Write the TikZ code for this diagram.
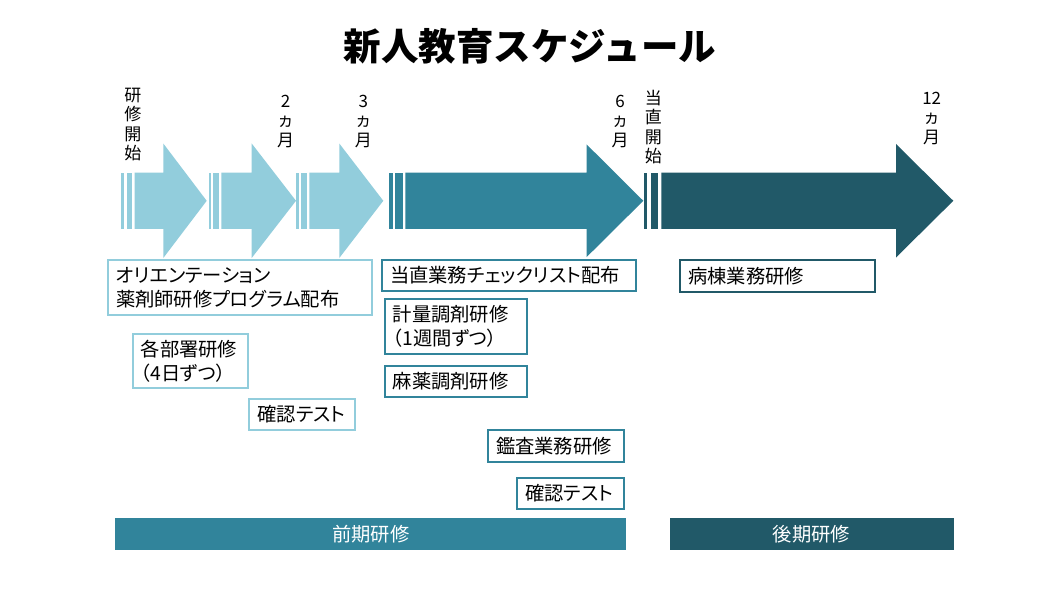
\documentclass[tikz,border=0pt]{standalone}
\usepackage{fontspec}
\setmainfont{Noto Sans CJK JP}[RawFeature=+palt]
\newfontfamily\plainjp{Noto Sans CJK JP}
\definecolor{lightc}{HTML}{92CDDC}
\definecolor{midc}{HTML}{31849B}
\definecolor{darkc}{HTML}{215968}
\begin{document}
\begin{tikzpicture}[x=1pt,y=-1pt,
  tbox/.style={anchor=north west, fill=white, line width=2pt, inner xsep=8pt, inner ysep=0pt, align=left, font=\fontsize{19.3}{24}\selectfont},
  lbox/.style={tbox, draw=lightc},
  mbox/.style={tbox, draw=midc},
  dbox/.style={tbox, draw=darkc},
  barbox/.style={anchor=north west, inner sep=0pt, text=white, font=\fontsize{19.3}{24}\selectfont},
  vlab/.style={anchor=north, inner sep=0pt, align=center, font=\plainjp\fontsize{17}{19.3}\selectfont}]
\useasboundingbox (0,0) rectangle (1060,596);
\fill[white] (0,0) rectangle (1060,596);
% title
\node[font=\plainjp\bfseries\fontsize{37.5}{44}\selectfont] (title) at (530,46) {新人教育スケジュール};
% light arrows
\foreach \sa/\sb/\sc/\sd/\bx/\hb/\tp in {120.7/124/126.7/132/134.7/163.3/206.7, 208.7/211.3/213.3/218.7/221.3/251.7/296, 296/298.7/300.7/306.7/309.3/339.3/383.3}{
  \fill[lightc] (\sa,172.7) rectangle (\sb,229);
  \fill[lightc] (\sc,172.7) rectangle (\sd,229);
  \fill[lightc] (\bx,172.7) -- (\hb,172.7) -- (\hb,143.5) -- (\tp,200.8) -- (\hb,258) -- (\hb,229) -- (\bx,229) -- cycle;
}
% medium arrow
\fill[midc] (388.7,172.7) rectangle (392.7,229);
\fill[midc] (395.3,172.7) rectangle (402.7,229);
\fill[midc] (405.3,172.7) -- (586.7,172.7) -- (586.7,144.5) -- (643.3,200.8) -- (586.7,257) -- (586.7,229) -- (405.3,229) -- cycle;
% dark arrow
\fill[darkc] (644,172.7) rectangle (647.3,229);
\fill[darkc] (650.7,172.7) rectangle (658,229);
\fill[darkc] (661.3,172.7) -- (896,172.7) -- (896,144) -- (953.3,200.8) -- (896,257.5) -- (896,229) -- (661.3,229) -- cycle;
% vertical labels
\node[vlab] (l0) at (132.8,88) {研\\修\\開\\始};
\node[vlab] (l2) at (285.7,95) {2\\ヵ\\月};
\node[vlab] (l3) at (363.3,95) {3\\ヵ\\月};
\node[vlab] (l6) at (620,95) {6\\ヵ\\月};
\node[vlab] (lt) at (653.3,90) {当\\直\\開\\始};
\node[vlab] (l12) at (931.7,92) {12\\ヵ\\月};
% boxes
\node[lbox, minimum width=264pt, minimum height=54.7pt, text width=248pt] (orient) at (107,259.3) {オリエンテーション\\薬剤師研修プログラム配布};
\node[lbox, minimum width=115.6pt, minimum height=54.6pt, text width=99.6pt] (busho) at (131.7,332.7) {各部署研修\\（4日ずつ）};
\node[lbox, minimum width=105.7pt, minimum height=30.7pt, text width=89.7pt] (test1) at (248.3,398.3) {確認テスト};
\node[mbox, minimum width=254pt, minimum height=31pt, text width=238pt] (tochoku) at (381,259) {当直業務チェックリスト配布};
\node[mbox, minimum width=142pt, minimum height=54.7pt, text width=126pt] (keiryo) at (383.7,298.3) {計量調剤研修\\（1週間ずつ）};
\node[mbox, minimum width=142pt, minimum height=31pt, text width=126pt] (mayaku) at (383.7,365) {麻薬調剤研修};
\node[mbox, minimum width=136pt, minimum height=31.4pt, text width=120pt] (kansa) at (487,429.3) {鑑査業務研修};
\node[mbox, minimum width=107pt, minimum height=31.3pt, text width=91pt] (test2) at (516,477) {確認テスト};
\node[dbox, minimum width=194.7pt, minimum height=31.4pt, text width=178.7pt] (byoto) at (679.3,259.3) {病棟業務研修};
% bars
\node[barbox, fill=midc, minimum width=511pt, minimum height=32pt] (zenki) at (115,517.5) {前期研修};
\node[barbox, fill=darkc, minimum width=284pt, minimum height=32pt] (koki) at (669.3,518) {後期研修};
\end{tikzpicture}
\end{document}
